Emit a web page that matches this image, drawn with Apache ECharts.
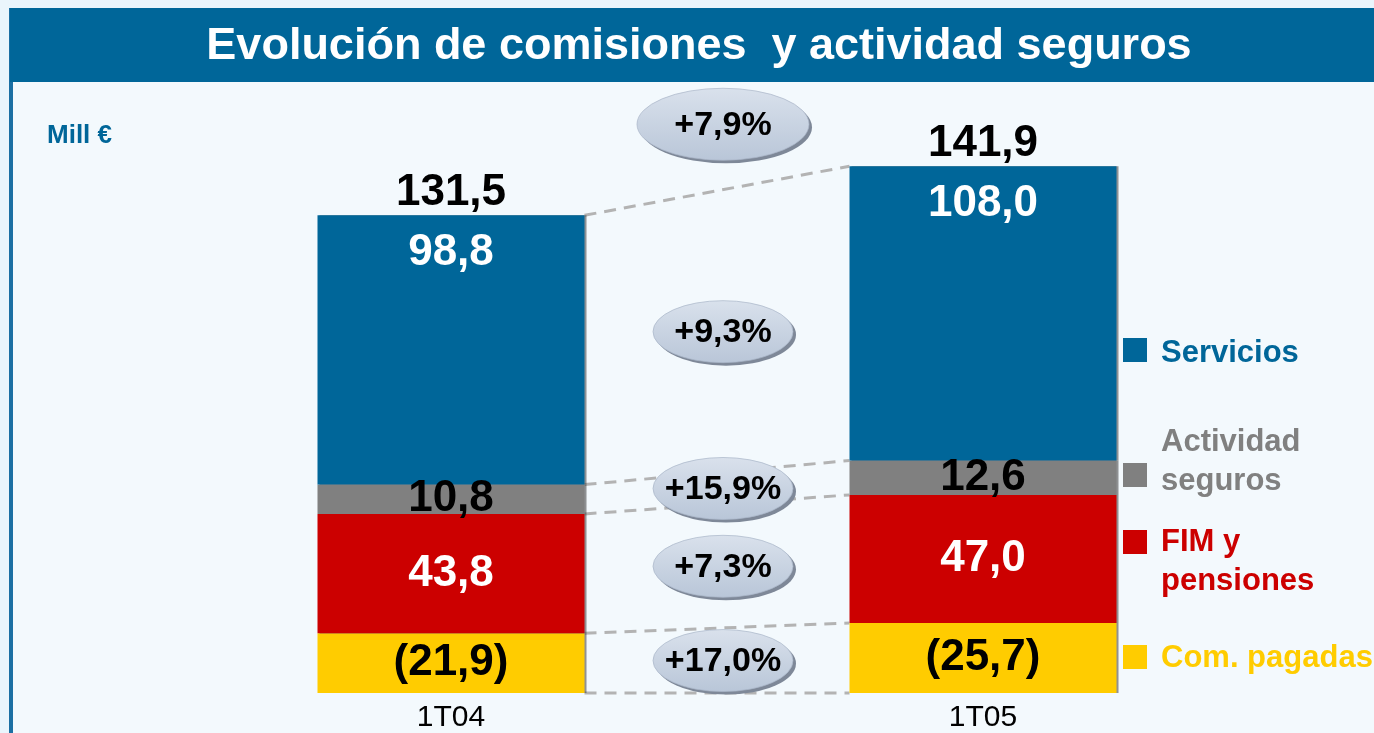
<!DOCTYPE html>
<html>
<head>
<meta charset="utf-8">
<script src="https://cdn.jsdelivr.net/npm/echarts@6/dist/echarts.min.js"></script>
<style>
  html, body { margin: 0; padding: 0; background: #eaf5fc; }
  #chart { width: 1374px; height: 733px; }
</style>
</head>
<body>
<div id="chart"></div>
<script>
const categories = ['1T04', '1T05']
const servicios = [98.8, 108.0]
const seguros = [10.8, 12.6]
const fim = [43.8, 47.0]
const comPagadas = [-21.9, -25.7]
const totales = [131.5, 141.9]
// crecimientos: total, servicios, seguros, FIM, com. pagadas
const crecimientos = ['+7,9%', '+9,3%', '+15,9%', '+7,3%', '+17,0%']
const seriesNames = ['Servicios', 'Actividad\nseguros', 'FIM y\npensiones', 'Com. pagadas']
const colors = ['#006699', '#808080', '#cc0000', '#ffcc00']

const FONT = '"Liberation Sans", Arial, sans-serif'
const BAR_W = 267

const fmt = v => {
  const s = Math.abs(v).toFixed(1).replace('.', ',')
  return v < 0 ? '(' + s + ')' : s
}

// stacked boundaries per bar: bottom, com, fim, seguros, top
const bounds = categories.map((c, i) => {
  const b0 = 0
  const b1 = b0 + Math.abs(comPagadas[i])
  const b2 = b1 + fim[i]
  const b3 = b2 + seguros[i]
  const b4 = b3 + servicios[i]
  return [b0, b1, b2, b3, b4]
})
const connectors = [0, 1, 2, 3, 4].map(k => [bounds[0][k], bounds[1][k]])

// ellipse anchor values: total, then segment mid points (avg of both bars)
const mid = k => (bounds[0][k] + bounds[0][k + 1] + bounds[1][k] + bounds[1][k + 1]) / 4
const growthAnchors = [
  Math.max(bounds[0][4], bounds[1][4]),
  mid(3), mid(2), mid(1), mid(0)
]
const growthData = crecimientos.map((t, i) => [growthAnchors[i], i])

const chart = echarts.init(document.getElementById('chart'))

const barLabel = (color, pos, extra) => Object.assign({
  show: true,
  position: pos,
  color: color,
  fontFamily: FONT,
  fontWeight: 'bold',
  fontSize: 44,
  formatter: p => fmt(p.data.raw)
}, extra || {})

const mk = (name, arr, color, labelColor, pos, extra) => ({
  name: name,
  type: 'bar',
  stack: 'tot',
  barWidth: BAR_W,
  data: arr.map(v => ({ value: Math.abs(v), raw: v })),
  itemStyle: { color: color, shadowColor: 'rgba(60,60,60,0.55)', shadowOffsetX: 2 },
  label: barLabel(labelColor, pos, extra),
  z: 3
})

const legendItems = [
  { y: 353, sq: 350 },
  { y: 462, sq: 475 },
  { y: 562, sq: 542 },
  { y: 658, sq: 657 }
]

const option = {
  backgroundColor: '#eaf5fc',
  animation: false,
  grid: { left: 185, right: 125, top: 148, bottom: 39 },
  xAxis: {
    type: 'category',
    data: categories,
    axisLine: { show: false },
    axisTick: { show: false },
    axisLabel: { color: '#000', fontSize: 30, fontFamily: FONT, margin: 10 }
  },
  yAxis: { type: 'value', min: 0, max: 200, show: false, splitLine: { show: false } },
  graphic: [
    { type: 'rect', z: -10, shape: { x: 10, y: 8, width: 1364, height: 725 }, style: { fill: '#f3f9fd' } },
    { type: 'rect', z: -9, shape: { x: 9, y: 8, width: 4, height: 725 }, style: { fill: '#1b6fa3' } },
    { type: 'rect', z: -8, shape: { x: 10, y: 8, width: 1364, height: 74 }, style: { fill: '#006699' } },
    {
      type: 'text', x: 699, y: 47, z: 10,
      style: {
        text: 'Evolución de comisiones  y actividad seguros', fill: '#fff',
        font: 'bold 45px ' + FONT, align: 'center', verticalAlign: 'middle'
      }
    },
    {
      type: 'text', x: 47, y: 136, z: 10,
      style: { text: 'Mill €', fill: '#006699', font: 'bold 26px ' + FONT, verticalAlign: 'middle' }
    }
  ].concat(legendItems.flatMap((it, i) => [
    { type: 'rect', z: 10, shape: { x: 1123, y: it.sq - 12, width: 24, height: 24 }, style: { fill: colors[i] } },
    {
      type: 'text', x: 1161, y: it.y, z: 10,
      style: {
        text: seriesNames[i], fill: colors[i], font: 'bold 31px ' + FONT,
        verticalAlign: 'middle', lineHeight: 39
      }
    }
  ])),
  series: [
    mk(seriesNames[3], comPagadas, colors[3], '#000', 'inside'),
    mk(seriesNames[2], fim, colors[2], '#fff', 'inside'),
    mk(seriesNames[1], seguros, colors[1], '#000', 'inside'),
    mk(seriesNames[0], servicios, colors[0], '#fff', 'insideTop', { distance: 16 }),
    {
      name: 'Total',
      type: 'bar',
      stack: 'tot',
      barWidth: BAR_W,
      data: totales.map(v => ({ value: 0, raw: v })),
      itemStyle: { color: 'transparent' },
      label: barLabel('#000', 'top', { distance: 0 }),
      z: 3
    },
    {
      type: 'custom',
      name: 'conectores',
      data: connectors,
      z: 2,
      renderItem: (params, api) => {
        const p1 = api.coord([0, api.value(0)])
        const p2 = api.coord([1, api.value(1)])
        return {
          type: 'line',
          shape: { x1: p1[0] + BAR_W / 2, y1: p1[1], x2: p2[0] - BAR_W / 2, y2: p2[1] },
          style: { stroke: '#b3b3b3', lineWidth: 3, lineDash: [12, 8] }
        }
      }
    },
    {
      type: 'custom',
      name: 'crecimiento',
      data: growthData,
      z: 5,
      renderItem: (params, api) => {
        const idx = api.value(1)
        const a = api.coord([0, api.value(0)])
        const b = api.coord([1, api.value(0)])
        const big = idx === 0
        const rx = big ? 86 : 70
        const ry = big ? 36 : 31
        const cx = (a[0] + b[0]) / 2 + 6
        const cy = big ? a[1] - 42 : a[1]
        return {
          type: 'group',
          children: [
            {
              type: 'circle', x: cx + 3, y: cy + 3, scaleY: ry / rx,
              shape: { cx: 0, cy: 0, r: rx },
              style: { fill: '#7e8898' }
            },
            {
              type: 'circle', x: cx, y: cy, scaleY: ry / rx,
              shape: { cx: 0, cy: 0, r: rx },
              style: {
                fill: new echarts.graphic.LinearGradient(0, 0, 0, 1, [
                  { offset: 0, color: '#d9e1ec' },
                  { offset: 1, color: '#b9c6d8' }
                ]),
                stroke: '#aab6c8', lineWidth: 1
              }
            },
            {
              type: 'text', x: cx, y: cy + 1,
              style: {
                text: crecimientos[idx], fill: '#000', font: 'bold 34px ' + FONT,
                align: 'center', verticalAlign: 'middle'
              }
            }
          ]
        }
      }
    }
  ]
}

option && chart.setOption(option)
</script>
</body>
</html>
